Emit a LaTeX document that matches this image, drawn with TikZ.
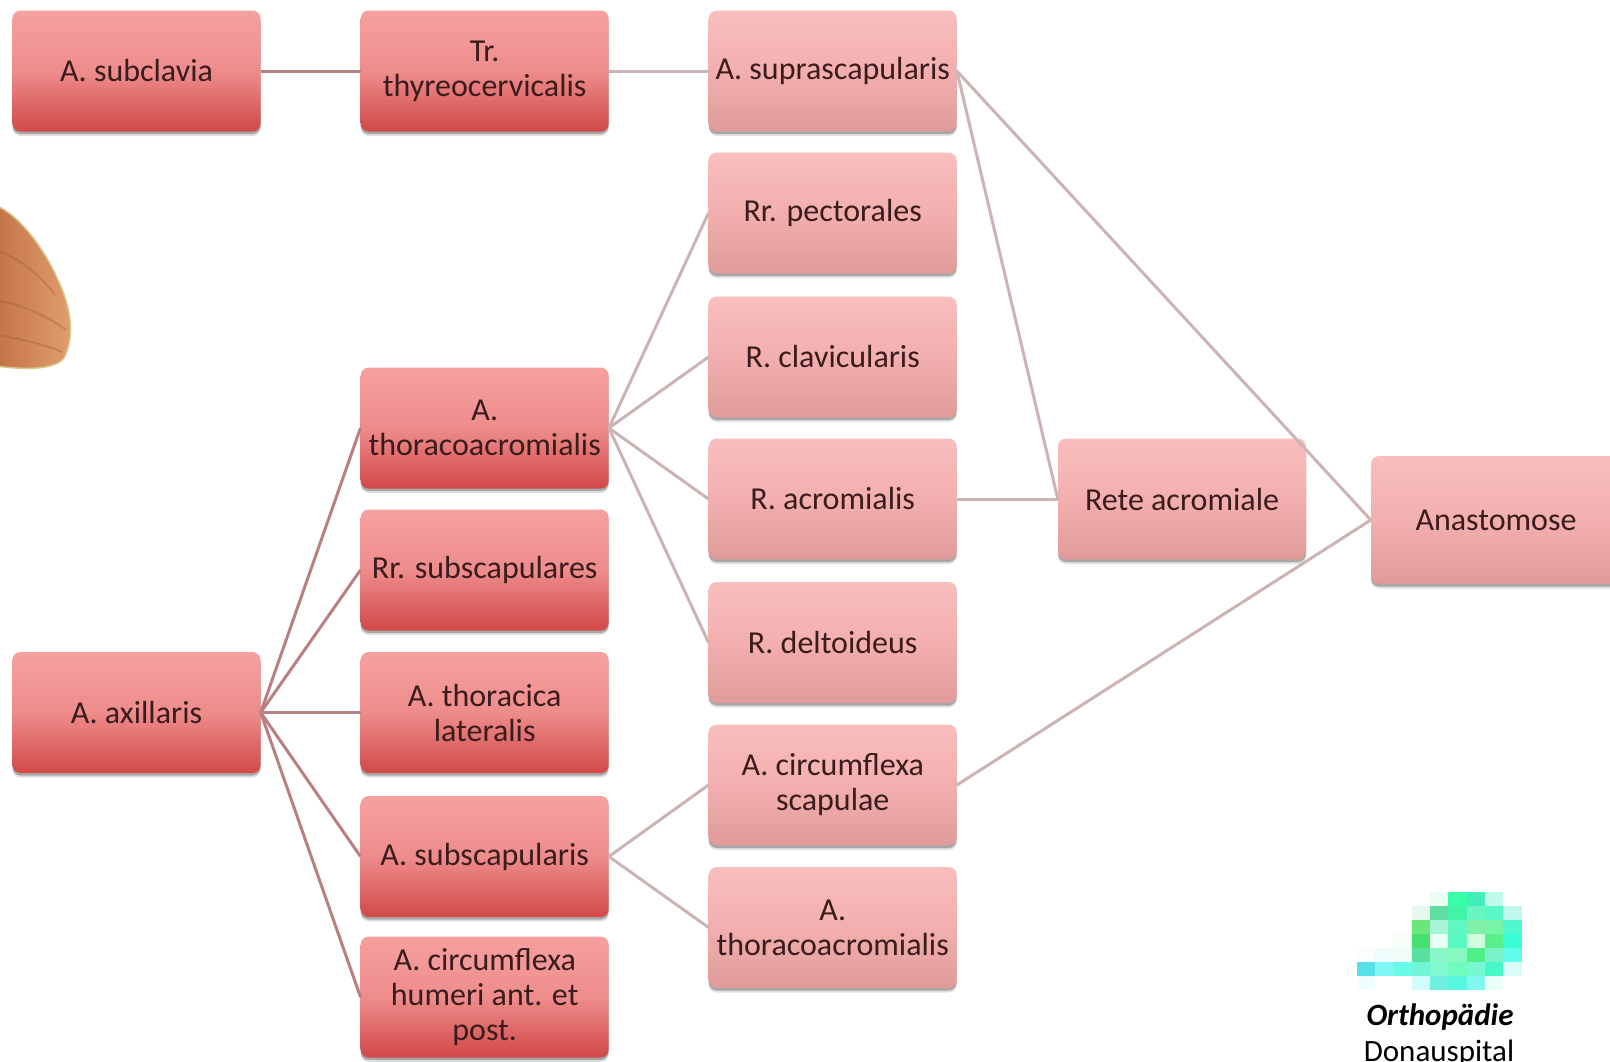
\documentclass[tikz,border=0pt]{standalone}
\usepackage{fontspec}
\setmainfont{Carlito}
\usepackage{xcolor}
\usepackage{tikz}
\usetikzlibrary{shadows}
\definecolor{redtop}{HTML}{F6A0A0}
\definecolor{redmid}{HTML}{EE8C8C}
\definecolor{redbot}{HTML}{D24848}
\definecolor{pinktop}{HTML}{F9BEBE}
\definecolor{pinkmid}{HTML}{F3AFAF}
\definecolor{pinkbot}{HTML}{E09A9A}
\definecolor{boxtext}{HTML}{3A1C1C}
\definecolor{linkdark}{HTML}{B88080}
\definecolor{linklight}{HTML}{CDB4B4}
\definecolor{musclelight}{HTML}{E2A070}
\definecolor{muscledark}{HTML}{C47446}
\definecolor{muscleedge}{HTML}{D8C890}
\tikzstyle{box}=[rectangle,rounded corners=8pt,minimum width=248pt,minimum height=121pt,align=center,text=boxtext,font={\fontsize{32}{35}\selectfont},
  drop shadow={shadow xshift=0pt,shadow yshift=-4.5pt,opacity=0.12,fill=black},
  drop shadow={shadow xshift=0pt,shadow yshift=-2.5pt,opacity=0.25,fill=black}]
\tikzstyle{artery}=[box,top color=redtop,bottom color=redbot,middle color=redmid]
\tikzstyle{branch}=[box,top color=pinktop,bottom color=pinkbot,middle color=pinkmid]
\tikzstyle{link}=[line width=3pt,draw=linklight]
\tikzstyle{trunk}=[line width=3pt,draw=linkdark]

\begin{document}
\begin{tikzpicture}[x=1pt,y=-1pt]
        \clip (0,0) rectangle (1610,1061);
        \fill[white] (0,0) rectangle (1610,1061);

        % muscle at the left edge
        \draw[draw=muscleedge,line width=1.5pt,left color=muscledark,right color=musclelight]
          (-5,205) .. controls (20,215) and (45,250) .. (58,280)
          .. controls (70,305) and (76,335) .. (64,358)
          .. controls (55,370) and (25,370) .. (-5,366) -- cycle;
        \draw[muscledark!80!black,opacity=0.35,line width=2pt]
          (-5,250) .. controls (20,258) and (40,275) .. (55,295)
          (-5,300) .. controls (25,305) and (50,318) .. (66,330)
          (-5,335) .. controls (20,338) and (45,345) .. (62,352);

        \node at (136.5,71)    [artery] (subclavia) {A. subclavia};
        \node at (484.7,71)    [artery] (thyreo)    {Tr.\\thyreocervicalis};
        \node at (832.7,71)    [branch] (supra)     {A. suprascapularis};
        \node at (832.7,213)   [branch] (pect)      {Rr. pectorales};
        \node at (832.7,357)   [branch] (clav)      {R. clavicularis};
        \node at (484.7,428)   [artery] (thacr)     {A.\\thoracoacromialis};
        \node at (832.7,499)   [branch] (acrom)     {R. acromialis};
        \node at (1182,499)    [branch] (rete)      {Rete acromiale};
        \node at (1496,520)    [branch,minimum width=250pt,minimum height=128pt] (anast) {Anastomose};
        \node at (484.7,570)   [artery] (subsc)     {Rr. subscapulares};
        \node at (832.7,642.5) [branch] (delt)      {R. deltoideus};
        \node at (136.5,712.5) [artery] (axill)     {A. axillaris};
        \node at (484.7,712.5) [artery] (thlat)     {A. thoracica\\lateralis};
        \node at (832.7,785)   [branch] (circsc)    {A. circumflexa\\scapulae};
        \node at (484.7,856.5) [artery] (subscap)   {A. subscapularis};
        \node at (832.7,927.5) [branch] (thacrb)    {A.\\thoracoacromialis};
        \node at (484.7,997)   [artery] (circhum)   {A. circumflexa\\humeri ant. et\\post.};

        \draw [trunk] (subclavia.east) -- (thyreo.west);
        \draw [link]  (thyreo.east) -- (supra.west);
        \draw [link]  (supra.east) -- (rete.west);
        \draw [link]  (supra.east) -- (anast.west);
        \draw [link]  (thacr.east) -- (pect.west);
        \draw [link]  (thacr.east) -- (clav.west);
        \draw [link]  (thacr.east) -- (acrom.west);
        \draw [link]  (thacr.east) -- (delt.west);
        \draw [link]  (acrom.east) -- (rete.west);
        \draw [link]  (circsc.east) -- (anast.west);
        \draw [trunk] (axill.east) -- (thacr.west);
        \draw [trunk] (axill.east) -- (subsc.west);
        \draw [trunk] (axill.east) -- (thlat.west);
        \draw [trunk] (axill.east) -- (subscap.west);
        \draw [trunk] (axill.east) -- (circhum.west);
        \draw [link]  (subscap.east) -- (circsc.west);
        \draw [link]  (subscap.east) -- (thacrb.west);

        % pixelated logo
        \foreach \c/\r/\h in {4/0/EAFDF3,5/0/3AFFA8,6/0/40F0B8,7/0/C0FAEA,
            3/1/E8F8EE,4/1/60DDA0,5/1/40F4A8,6/1/6AF4C0,7/1/5AF8C8,8/1/C0F8EE,
            3/2/6AE67A,4/2/A8F2D8,5/2/60F8C0,6/2/80F0A8,7/2/78F4A8,8/2/50F8D0,
            2/3/F6FEF8,3/3/48E070,4/3/E8FEF4,5/3/58F8C0,6/3/D0FCE0,7/3/58F088,8/3/38FCD4,
            0/4/FAFEFE,1/4/EEFCFC,2/4/F2FCF6,3/4/58E0A0,4/4/88F8C8,5/4/88F8C0,6/4/50F088,7/4/78F4C8,8/4/60FCEC,
            0/5/58E0E8,1/5/80F8F8,2/5/68FCE8,3/5/70F4D8,4/5/80F8D0,5/5/70FCC0,6/5/78F8D0,7/5/48F8C8,8/5/D8FCF8,
            0/6/F0FEFE,3/6/D0FCFC,4/6/70F0E0,5/6/58F8E0,6/6/80F8F0,7/6/ECFEF8}
        {
          \definecolor{px}{HTML}{\h}
          \fill[px] (1356.7+\c*18.3,891.7+\r*14) rectangle +(18.5,14.2);
        }

        \node at (1440,1025) [anchor=base,font={\fontsize{31}{34}\selectfont\bfseries\itshape}] (clinic) {Orthopädie};
        \node at (1439,1061) [anchor=base,font={\fontsize{31}{34}\selectfont}] (site) {Donauspital};
      \end{tikzpicture}
\end{document}
